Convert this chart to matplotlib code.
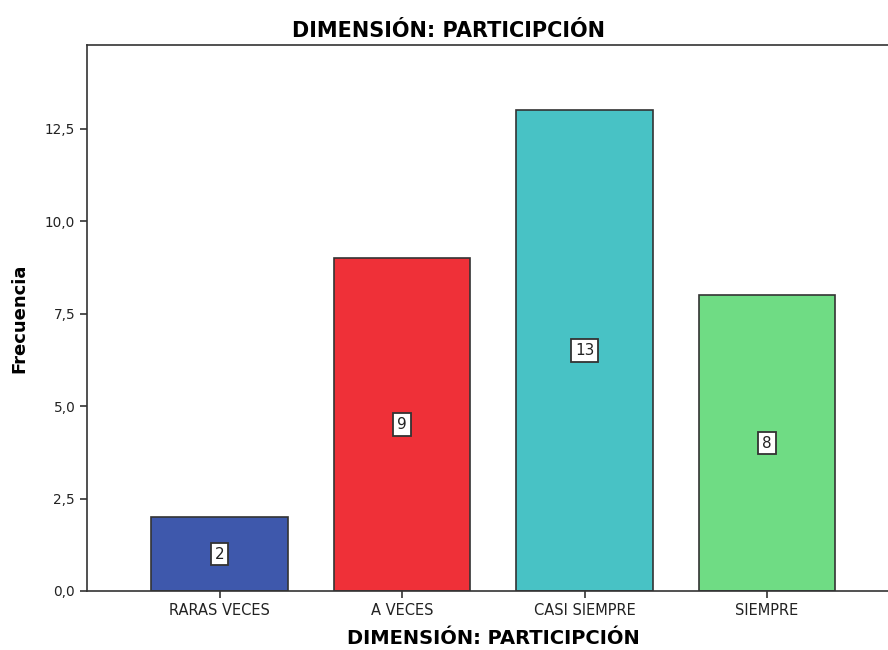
import matplotlib
matplotlib.use("Agg")
import matplotlib.pyplot as plt

# categories and frequencies
categorias = ["RARAS VECES", "A VECES", "CASI SIEMPRE", "SIEMPRE"]
frecuencias = [2, 9, 13, 8]
colores = ["#3E58AC", "#EF3038", "#48C2C5", "#6FDC84"]
yticks = [0, 2.5, 5, 7.5, 10, 12.5]
ytick_labels = ["0,0", "2,5", "5,0", "7,5", "10,0", "12,5"]

plt.rcParams['font.family'] = ['DejaVu Sans']

fig = plt.figure(figsize=(8.88, 6.5), dpi=100)
ax = fig.add_axes([0.098, 0.0908, 0.915, 0.84])

x = range(len(categorias))
ax.bar(x, frecuencias, width=0.75, color=colores, edgecolor="#333333", linewidth=1.2, zorder=2)

# value labels in the middle of each bar
for xi, v in zip(x, frecuencias):
    ax.text(xi, v / 2, str(v), ha="center", va="center", fontsize=11, color="#222222",
            bbox=dict(boxstyle="square,pad=0.25", facecolor="white", edgecolor="#333333", linewidth=1.3),
            zorder=3)

ax.set_xlim(-0.726, 3.726)
ax.set_ylim(0, 14.77)
ax.set_xticks(list(x))
ax.set_xticklabels(categorias, fontsize=10.5, color="#222222")
ax.set_yticks(yticks)
ax.set_yticklabels(ytick_labels, fontsize=9.8, color="#222222")
ax.tick_params(axis="both", direction="out", length=5, width=1.2, color="#333333")

for s in ax.spines.values():
    s.set_color("#333333")
    s.set_linewidth(1.2)

# title is centred on the figure, not on the (clipped) axes
fig.text(0.505, 0.953, "DIMENSIÓN: PARTICIPCIÓN", fontsize=15, fontweight="bold",
         ha="center", va="center")
ax.set_xlabel("DIMENSIÓN: PARTICIPCIÓN", fontsize=14, fontweight="bold", labelpad=8)
ax.set_ylabel("Frecuencia", fontsize=13, fontweight="bold", labelpad=12)

plt.savefig("out.png", dpi=100)
